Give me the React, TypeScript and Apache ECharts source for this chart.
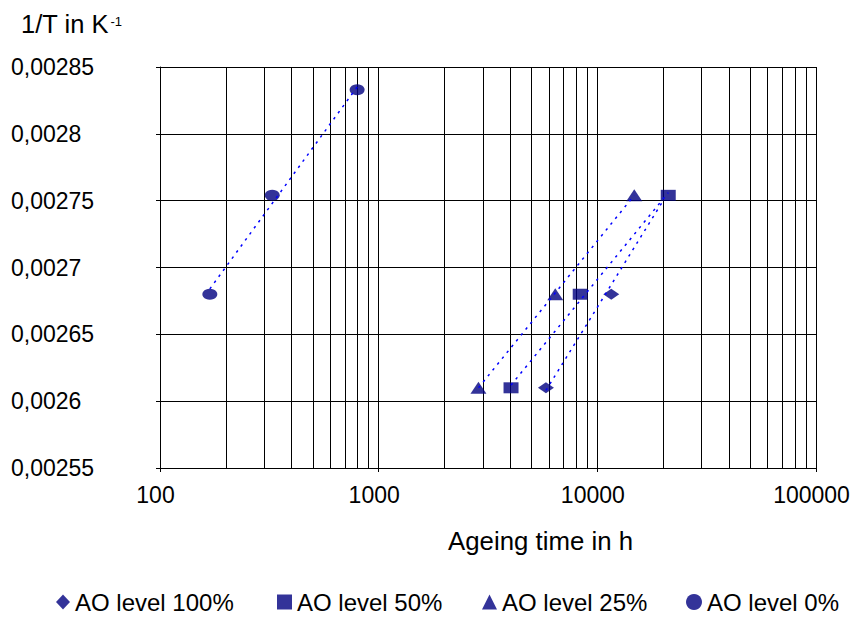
import React, { useEffect, useRef } from 'react';
import * as echarts from 'echarts';

const FONT = "'Liberation Sans', Arial, Helvetica, sans-serif";
const NAVY = '#000080';
const TREND_BLUE = '#0000ff';

// Series names (legend)
const seriesNames = ['AO level 100%', 'AO level 50%', 'AO level 25%', 'AO level 0%'];

// Measured points: ageing time (h) vs 1/T (K^-1)
const time100 = [5820, 11580];
const invT100 = [0.00261, 0.00268];
const time50 = [4030, 8350, 21100];
const invT50 = [0.00261, 0.00268, 0.002754];
const time25 = [2860, 6420, 14750];
const invT25 = [0.00261, 0.00268, 0.002754];
const time0 = [169, 326, 797];
const invT0 = [0.00268, 0.002754, 0.002833];

// Trendline end points
const trendTime100 = [5820, 20000];
const trendInvT100 = [0.002608, 0.00275];
const trendTime50 = [4030, 21100];
const trendInvT50 = [0.002612, 0.002756];
const trendTime25 = [2860, 14750];
const trendInvT25 = [0.00261, 0.002754];
const trendTime0 = [169, 797];
const trendInvT0 = [0.002684, 0.002835];

// Axis settings
const xMin = 100;
const xMax = 100000;
const yMin = 0.00255;
const yMax = 0.00285;
const yStep = 0.00005;
const minorGridTimes = [
  200, 300, 400, 500, 600, 700, 800, 900,
  2000, 3000, 4000, 5000, 6000, 7000, 8000, 9000,
  20000, 30000, 40000, 50000, 60000, 70000, 80000, 90000,
];

const yTitle = '1/T in K';
const yTitleSup = '-1';
const xTitle = 'Ageing time in h';

const pairs = (xs: number[], ys: number[]) => xs.map((x, i) => [x, ys[i]]);

const markerSymbols = ['diamond', 'rect', 'triangle', 'circle'];
const markerSizes = [[16, 11], [15, 11], [16, 12], [15, 11]];
const pointSets = [
  pairs(time100, invT100),
  pairs(time50, invT50),
  pairs(time25, invT25),
  pairs(time0, invT0),
];
const trendSets = [
  pairs(trendTime100, trendInvT100),
  pairs(trendTime50, trendInvT50),
  pairs(trendTime25, trendInvT25),
  pairs(trendTime0, trendInvT0),
];

const legendLefts = [56, 277, 482, 686];
const legendSizes = [[14, 15], [15, 15], [15, 15], [16, 16]];

export default function App() {
  const ref = useRef<HTMLDivElement>(null);

  useEffect(() => {
    if (!ref.current) return;
    const chart = echarts.init(ref.current, undefined, { renderer: 'svg' });

    const scatterSeries = seriesNames.map((name, i) => ({
      name,
      type: 'scatter',
      data: pointSets[i],
      symbol: markerSymbols[i],
      symbolSize: markerSizes[i],
      itemStyle: { color: NAVY },
      z: 3,
      silent: true,
      ...(i === 3
        ? {
            markLine: {
              silent: true,
              z: 1,
              symbol: ['none', 'none'],
              label: { show: false },
              lineStyle: { color: '#000', width: 1, type: 'solid' },
              data: minorGridTimes.map((v) => ({ xAxis: v })),
            },
          }
        : {}),
    }));

    const trendSeries = trendSets.map((d, i) => ({
      name: 'trend ' + seriesNames[i],
      type: 'line',
      data: d,
      showSymbol: false,
      symbol: 'none',
      silent: true,
      z: 4,
      lineStyle: { color: TREND_BLUE, width: 1.5, type: [2.5, 5] },
    }));

    const legends = seriesNames.map((name, i) => ({
      data: [{ name, icon: markerSymbols[i] }],
      left: legendLefts[i],
      top: 590,
      padding: 0,
      itemGap: 0,
      itemWidth: legendSizes[i][0],
      itemHeight: legendSizes[i][1],
      selectedMode: false,
      textStyle: { fontSize: 24, fontFamily: FONT, color: '#000' },
    }));

    chart.setOption({
      animation: false,
      backgroundColor: '#fff',
      textStyle: { fontFamily: FONT },
      grid: { left: 160, right: 40, top: 67, bottom: 149, containLabel: false },
      legend: legends,
      xAxis: {
        type: 'log',
        logBase: 10,
        min: xMin,
        max: xMax,
        axisLine: { show: true, lineStyle: { color: '#000', width: 1 } },
        axisTick: { show: true, inside: false, length: 4, lineStyle: { color: '#000' } },
        splitLine: { show: true, lineStyle: { color: '#000', width: 1 } },
        axisLabel: {
          fontSize: 23,
          fontFamily: FONT,
          color: '#000',
          margin: 15,
          padding: [0, 9, 0, 0],
          formatter: (v: number) => String(Math.round(v)),
        },
      },
      yAxis: {
        type: 'value',
        min: yMin,
        max: yMax,
        interval: yStep,
        axisLine: { show: true, lineStyle: { color: '#000', width: 1 } },
        axisTick: { show: true, inside: false, length: 4, lineStyle: { color: '#000' } },
        splitLine: { show: true, lineStyle: { color: '#000', width: 1 } },
        axisLabel: {
          fontSize: 23,
          fontFamily: FONT,
          color: '#000',
          align: 'left',
          margin: 149,
          formatter: (v: number) => String(parseFloat(v.toFixed(6))).replace('.', ','),
        },
      },
      graphic: [
        {
          type: 'text',
          x: 21,
          y: 24,
          style: {
            text: yTitle,
            fontSize: 25.5,
            fontFamily: FONT,
            fill: '#000',
            align: 'left',
            verticalAlign: 'middle',
          },
        },
        {
          type: 'text',
          x: 110.5,
          y: 21,
          style: {
            text: yTitleSup,
            fontSize: 13,
            fontFamily: FONT,
            fill: '#000',
            align: 'left',
            verticalAlign: 'middle',
          },
        },
        {
          type: 'text',
          x: 448,
          y: 540.5,
          style: {
            text: xTitle,
            fontSize: 25.8,
            fontFamily: FONT,
            fill: '#000',
            align: 'left',
            verticalAlign: 'middle',
          },
        },
      ],
      series: [...scatterSeries, ...trendSeries],
    });

    return () => {
      chart.dispose();
    };
  }, []);

  return (
    <div
      ref={ref}
      style={{ position: 'fixed', left: 0, top: 0, width: 856, height: 617, background: '#fff' }}
    />
  );
}
